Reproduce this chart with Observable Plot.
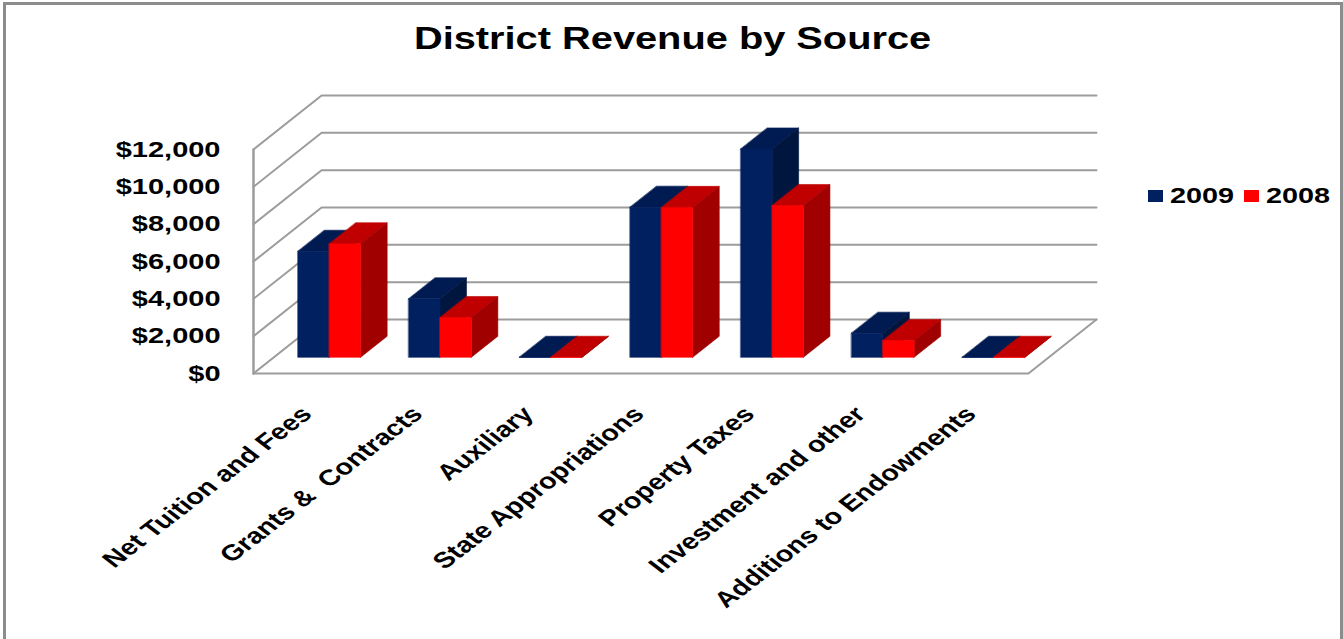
<!DOCTYPE html>
<html>
<head>
<meta charset="utf-8">
<title>District Revenue by Source</title>
<script src="https://cdn.jsdelivr.net/npm/d3@7"></script>
<script src="https://cdn.jsdelivr.net/npm/@observablehq/plot@0.6"></script>
<style>
  html, body { margin: 0; padding: 0; background: #fff; overflow: hidden; }
  #page { position: relative; width: 1343px; height: 639px; font-family: "Liberation Sans", Arial, sans-serif; font-weight: bold; color: #000; }
  #frame { position: absolute; left: 3px; top: 2px; right: 0; bottom: -10px; width: 1334px; border: 3px solid #8c8c8c; }
  #title { position: relative; height: 62px; line-height: 78px; font-size: 31px; text-align: center; white-space: nowrap; }
  #title span { display: inline-block; transform: scaleX(1.283); margin-left: 3px; }
  #legend { position: absolute; left: 1148px; top: 183px; display: flex; align-items: center; height: 26px; font-size: 22.5px; }
  #legend i { display: block; width: 15px; height: 12px; }
  #legend span { display: block; width: 81px; padding-left: 7px; box-sizing: border-box; }
  #legend b { display: inline-block; transform: scaleX(1.28); transform-origin: left center; }
  svg { position: relative; }
  svg text { white-space: pre; }
</style>
</head>
<body>
<div id="page">
  <div id="frame"></div>
  <div id="title"><span>District Revenue by Source</span></div>
  <div id="chart"></div>
  <div id="legend"></div>
</div>
<script>
// Revenue by source, in thousands of dollars
const categories = ["Net Tuition and Fees", "Grants &  Contracts", "Auxiliary", "State Appropriations", "Property Taxes", "Investment and other", "Additions to Endowments"];
const values2009 = [5680, 3130, 0, 8040, 11160, 1290, 0];
const values2008 = [6080, 2130, 0, 8030, 8130, 900, 0];
const yTicks = [0, 2000, 4000, 6000, 8000, 10000, 12000];

const seriesList = [
  {name: "2009", values: values2009, front: "#002060", top: "#001b52", side: "#00163f", offset: -1},
  {name: "2008", values: values2008, front: "#ff0000", top: "#c00000", side: "#a00000", offset: 0}
];

// Oblique projection: a receding point shifts right and up, in data units
const depthX = 0.615;
const depthY = 2893;
const barWidth = 0.283;
const barNear = 0.3;
const barFar = 0.69;
const wallGray = "#9c9c9c";

const at = (cat, value, depth) => ({x: cat + depth * depthX, y: value + depth * depthY});

// Box faces for one series, each vertex tagged with its bar
function faces(series, face) {
  return series.values.flatMap((v, i) => {
    const x0 = i + 0.5 + series.offset * barWidth;
    const x1 = x0 + barWidth;
    const outline = {
      front: [at(x0, 0, barNear), at(x1, 0, barNear), at(x1, v, barNear), at(x0, v, barNear)],
      top: [at(x0, v, barNear), at(x1, v, barNear), at(x1, v, barFar), at(x0, v, barFar)],
      side: [at(x1, 0, barNear), at(x1, 0, barFar), at(x1, v, barFar), at(x1, v, barNear)]
    }[face];
    return outline.map(p => ({...p, bar: i}));
  });
}

// Side wall and back wall gridlines
const gridLines = yTicks.flatMap(t => [
  {...at(0, t, 0), id: t},
  {...at(0, t, 1), id: t},
  {...at(categories.length, t, 1), id: t}
]);
const frontAxis = [at(0, 0, 0), at(0, yTicks[yTicks.length - 1], 0)];
const floorEdge = [at(0, 0, 0), at(categories.length, 0, 0), at(categories.length, 0, 1)];

const labelData = categories.map((name, i) => ({name, x: i + 0.5, y: 0}));

const barMarks = seriesList.flatMap(s => ["top", "side", "front"].map(face =>
  Plot.line(faces(s, face), {x: "x", y: "y", z: "bar", curve: "linear-closed", fill: s[face], stroke: s[face], strokeWidth: 0.6})
));

const chart = Plot.plot({
  width: 1343,
  height: 577,
  marginLeft: 253,
  marginRight: 247,
  marginTop: 33,
  marginBottom: 266,
  style: {background: "transparent", fontFamily: "'Liberation Sans', Arial, sans-serif", color: "#000", overflow: "visible"},
  x: {domain: [0, categories.length + depthX], axis: null},
  y: {domain: [0, yTicks[yTicks.length - 1] + depthY], axis: null},
  marks: [
    Plot.line(gridLines, {x: "x", y: "y", z: "id", stroke: wallGray, strokeWidth: 2}),
    Plot.line(frontAxis, {x: "x", y: "y", stroke: wallGray, strokeWidth: 2.5}),
    Plot.line(floorEdge, {x: "x", y: "y", stroke: wallGray, strokeWidth: 2}),
    ...barMarks,
    Plot.axisY({
      ticks: yTicks,
      tickSize: 0,
      tickPadding: 0,
      dx: -33,
      dy: 0,
      fontSize: 22.3,
      fontWeight: "bold",
      tickFormat: d => "$" + d3.format(",")(d),
      label: null
    }),
    Plot.text(labelData, {
      x: "x",
      y: "y",
      text: "name",
      rotate: -45,
      textAnchor: "end",
      dx: -2,
      dy: 37,
      fontSize: 22.2,
      fontWeight: "bold",
      fill: "#000"
    })
  ]
});

// Labels are set wide: stretch them horizontally, which also shears the rotated ones
chart.querySelectorAll('g[aria-label="y-axis tick label"] text').forEach(t => {
  t.setAttribute("transform", (t.getAttribute("transform") || "") + " scale(1.3,1)");
});
chart.querySelectorAll('g[aria-label="text"] text').forEach(t => {
  t.setAttribute("transform", t.getAttribute("transform").replace("rotate(", "scale(1.3,1) rotate("));
});

document.getElementById("chart").appendChild(chart);

// Legend swatches
const legend = d3.select("#legend");
seriesList.forEach(s => {
  legend.append("i").style("background", s.front);
  legend.append("span").append("b").style("font-weight", "bold").text(s.name);
});
</script>
</body>
</html>
